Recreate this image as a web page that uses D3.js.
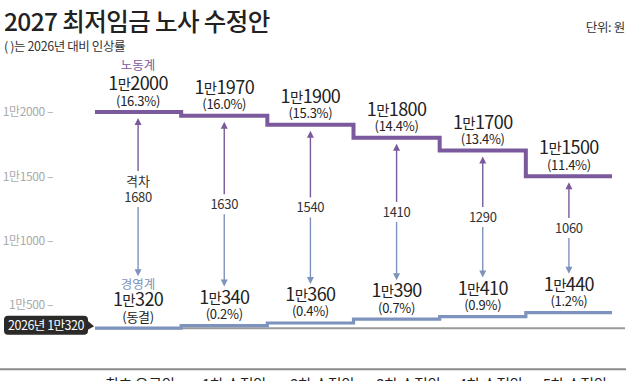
<!DOCTYPE html>
<html><head><meta charset="utf-8">
<script src="https://cdn.jsdelivr.net/npm/d3@7"></script>
<style>
html,body{margin:0;padding:0;background:#fff;}
svg{display:block;font-family:"Noto Sans CJK KR","Noto Sans",sans-serif;}
</style></head>
<body><svg id="c" width="628" height="381"></svg>
<script>
const categories = ["최초 요구안","1차 수정안","2차 수정안","3차 수정안","4차 수정안","5차 수정안"];
const labor = [12000,11970,11900,11800,11700,11500];
const laborPct = ["(16.3%)","(16.0%)","(15.3%)","(14.4%)","(13.4%)","(11.4%)"];
const business = [10320,10340,10360,10390,10410,10440];
const businessPct = ["(동결)","(0.2%)","(0.4%)","(0.7%)","(0.9%)","(1.2%)"];
const gaps = [1680,1630,1540,1410,1290,1060];
const yTicks = [10500,11000,11500,12000];
const base2026 = 10320;

const PURPLE = "#7a5a9c", BLUE = "#7d92bd", GRAY = "#9a9a9a";
const svg = d3.select("#c");

const y = d3.scaleLinear().domain([10000,12000]).range([369.3,112]);
const x = d3.scaleBand().domain(categories).range([95,612]).padding(0);
const cx = c => x(c) + x.bandwidth()/2;
const man = v => "1만" + (v - 10000);

// title
svg.append("text").attr("x",4).attr("y",31).attr("font-size",24.5).attr("font-weight",500)
  .attr("letter-spacing",-0.6).attr("fill","#222").text("2027 최저임금 노사 수정안");
svg.append("text").attr("x",4).attr("y",51).attr("font-size",12.5).attr("letter-spacing",-0.4)
  .attr("fill","#333").text("( )는 2026년 대비 인상률");
svg.append("text").attr("x",625).attr("y",32).attr("font-size",12.5).attr("text-anchor","end")
  .attr("letter-spacing",-0.3).attr("fill","#333").text("단위: 원");

// y axis
const ax = svg.append("g").attr("transform","translate(53,0)")
  .call(d3.axisLeft(y).tickValues(yTicks).tickSize(0).tickPadding(0).tickFormat(v => man(v) + " –"));
ax.select(".domain").remove();
ax.selectAll("text").attr("font-size",12).attr("fill","#aaa").attr("font-family","\"Noto Sans CJK KR\",sans-serif").attr("letter-spacing",-0.4);

// baseline lines
svg.append("line").attr("x1",0).attr("x2",626).attr("y1",y(10000)).attr("y2",y(10000))
  .attr("stroke","#8a8a8a").attr("stroke-width",2);
svg.append("line").attr("x1",95).attr("x2",625).attr("y1",y(base2026)).attr("y2",y(base2026))
  .attr("stroke",GRAY).attr("stroke-width",2);

// step lines
function stepPts(vals){
  const pts = [];
  categories.forEach((c,i)=>{ pts.push([x(c), y(vals[i])]); pts.push([x(c)+x.bandwidth(), y(vals[i])]); });
  return pts;
}
const line = d3.line();
svg.append("path").attr("d", line(stepPts(business))).attr("fill","none")
  .attr("stroke",BLUE).attr("stroke-width",3.2);
svg.append("path").attr("d", line(stepPts(labor))).attr("fill","none")
  .attr("stroke",PURPLE).attr("stroke-width",4);

// 2026 label box
const bx = svg.append("g");
const by = y(base2026) - 3;
bx.append("rect").attr("x",4).attr("y",by-9.5).attr("width",84).attr("height",19).attr("rx",4).attr("fill","#2b2a29");
bx.append("path").attr("d",`M87,${by-5} L94,${by+1} L87,${by+5} Z`).attr("fill","#2b2a29");
bx.append("text").attr("x",46).attr("y",by+4.5).attr("text-anchor","middle").attr("font-size",12.5)
  .attr("letter-spacing",-0.5).attr("fill","#fff").text("2026년 1만320");

// value label helper
function valueText(g, xx, yy, v, size){
  const t = g.append("text").attr("x",xx).attr("y",yy).attr("text-anchor","middle").attr("fill","#222")
    .attr("font-size",size).attr("letter-spacing",-0.6);
  t.append("tspan").text("1");
  t.append("tspan").attr("font-size",size*0.8).text("만");
  t.append("tspan").text(String(v-10000));
}
const g = svg.append("g");
categories.forEach((c,i)=>{
  const xx = cx(c);
  const yl = y(labor[i]);
  const yb = y(business[i]);
  valueText(g, xx, yl-22, labor[i], 18);
  g.append("text").attr("x",xx).attr("y",yl-6.5).attr("text-anchor","middle").attr("font-size",13)
    .attr("letter-spacing",-0.3).attr("fill","#222").text(laborPct[i]);
  valueText(g, xx, yb-22, business[i], 18);
  g.append("text").attr("x",xx).attr("y",yb-6.5).attr("text-anchor","middle").attr("font-size",13)
    .attr("letter-spacing",-0.3).attr("fill","#222").text(businessPct[i]);

  // arrows
  const upTip = yl + 6;
  const downTip = yb - (i===0 ? 52 : 39);
  const mid = (upTip + downTip)/2;
  const tTop = i===0 ? mid-26 : mid-10;
  const tBot = mid + 10;
  g.append("line").attr("x1",xx).attr("x2",xx).attr("y1",upTip+6).attr("y2",tTop)
    .attr("stroke",PURPLE).attr("stroke-width",1.4);
  g.append("path").attr("d",`M${xx},${upTip} L${xx-3.5},${upTip+7} L${xx+3.5},${upTip+7} Z`).attr("fill",PURPLE);
  g.append("line").attr("x1",xx).attr("x2",xx).attr("y1",tBot).attr("y2",downTip-6)
    .attr("stroke",BLUE).attr("stroke-width",1.4);
  g.append("path").attr("d",`M${xx},${downTip} L${xx-3.5},${downTip-7} L${xx+3.5},${downTip-7} Z`).attr("fill",BLUE);
  if(i===0){
    g.append("text").attr("x",xx).attr("y",mid-11).attr("text-anchor","middle").attr("font-size",13)
      .attr("fill","#333").text("격차");
  }
  g.append("text").attr("x",xx).attr("y",mid+5).attr("text-anchor","middle").attr("font-size",13)
    .attr("letter-spacing",-0.3).attr("fill","#333").text(gaps[i]);
});
// series names
g.append("text").attr("x",cx(categories[0])).attr("y",y(labor[0])-42).attr("text-anchor","middle")
  .attr("font-size",12.5).attr("fill",PURPLE).text("노동계");
g.append("text").attr("x",cx(categories[0])).attr("y",y(business[0])-39).attr("text-anchor","middle")
  .attr("font-size",12.5).attr("fill",BLUE).text("경영계");

// x category labels (bottom, partially cut as in the reference)
svg.append("g").selectAll("text").data(categories).join("text")
  .attr("x",(c,i)=>cx(c)+[2,10,12,12,8,6][i]).attr("y",390).attr("text-anchor","middle")
  .attr("font-size",15).attr("letter-spacing",-0.4).attr("fill","#222").text(d=>d);
</script></body></html>
